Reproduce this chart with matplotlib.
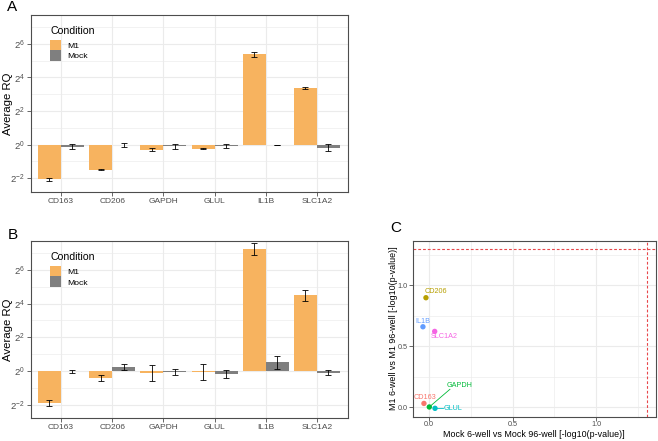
import numpy as np
import matplotlib
matplotlib.use("Agg")
import matplotlib.pyplot as plt
from matplotlib.patches import Patch
from matplotlib.ticker import FixedLocator, NullFormatter, FuncFormatter, NullLocator

plt.rcParams["font.family"] = ["Liberation Sans", "DejaVu Sans"]
plt.rcParams["mathtext.fontset"] = "custom"
plt.rcParams["mathtext.rm"] = "Liberation Sans"
plt.rcParams["mathtext.it"] = "Liberation Sans:italic"
plt.rcParams["mathtext.default"] = "regular"

# ---------------- data ----------------
genes = ["CD163", "CD206", "GAPDH", "GLUL", "IL1B", "SLC1A2"]
conditions = ["M1", "Mock"]

# Panel A: log2(Average RQ) and error (log2 units)
a_m1_log2 = [-2.06, -1.50, -0.30, -0.24, 5.37, 3.36]
a_m1_err = [0.10, 0.03, 0.09, 0.04, 0.13, 0.06]
a_mock_log2 = [-0.12, -0.02, -0.10, -0.08, -0.02, -0.18]
a_mock_err = [0.16, 0.10, 0.14, 0.10, 0.02, 0.21]

# Panel B
b_m1_log2 = [-1.90, -0.40, -0.15, -0.06, 7.26, 4.50]
b_m1_err = [0.18, 0.18, 0.47, 0.46, 0.35, 0.32]
b_mock_log2 = [-0.02, 0.24, -0.06, -0.18, 0.52, -0.10]
b_mock_err = [0.08, 0.18, 0.16, 0.26, 0.39, 0.16]

# Panel C: -log10(p-values)
c_x = [-0.028, -0.016, 0.004, 0.038, -0.034, 0.036]
c_y = [0.032, 0.898, 0.003, -0.008, 0.660, 0.622]
sig_threshold = -np.log10(0.05)

# ---------------- styles ----------------
col_m1 = "#F7B35F"
col_mock = "#7F7F7F"
gene_colors = ["#F8766D", "#B79F00", "#00BA38", "#00BFC4", "#619CFF", "#F564E3"]
grid_col = "#EBEBEB"
border_col = "#4D4D4D"
tick_col = "#4D4D4D"

W, H = 658, 441
fig = plt.figure(figsize=(W / 100, H / 100), dpi=100)


def px_axes(l, t, r, b):
    return fig.add_axes([l / W, 1 - b / H, (r - l) / W, (b - t) / H])


def style_axes(ax, lsize, pad=1.5):
    for s in ax.spines.values():
        s.set_color(border_col)
        s.set_linewidth(0.8)
    ax.tick_params(which="major", length=2.6, width=0.6, color=border_col,
                   labelsize=lsize, labelcolor=tick_col, pad=pad)
    ax.tick_params(which="minor", length=0)
    ax.grid(True, which="major", color=grid_col, lw=0.8)
    ax.grid(True, which="minor", color=grid_col, lw=0.45)
    ax.set_axisbelow(True)


def bar_panel(ax, m1_log2, m1_err, mock_log2, mock_err, show_legend):
    x = np.arange(len(genes))
    w = 0.45
    for vals, errs, off, col in [(m1_log2, m1_err, -w / 2, col_m1),
                                 (mock_log2, mock_err, w / 2, col_mock)]:
        v = np.array(vals)
        e = np.array(errs)
        rq = 2.0 ** v
        ax.bar(x + off, rq - 1, bottom=1, width=w, color=col, linewidth=0, zorder=2)
        lo = 2.0 ** (v - e)
        hi = 2.0 ** (v + e)
        ax.errorbar(x + off, rq, yerr=[rq - lo, hi - rq], fmt="none", ecolor="black",
                    elinewidth=0.6, capsize=2.2, capthick=0.6, zorder=3)
    ax.set_yscale("log", base=2)
    ax.set_ylim(2 ** -2.82, 2 ** 7.72)
    ax.set_xlim(-0.59, 5.6)
    ax.yaxis.set_major_locator(FixedLocator([2.0 ** k for k in (-2, 0, 2, 4, 6)]))
    ax.yaxis.set_major_formatter(FuncFormatter(lambda v, p: "$2^{%d}$" % int(round(np.log2(v)))))
    ax.yaxis.set_minor_locator(FixedLocator([2.0 ** k for k in (-1, 1, 3, 5, 7)]))
    ax.yaxis.set_minor_formatter(NullFormatter())
    ax.set_xticks(x)
    ax.set_xticklabels(genes)
    ax.xaxis.set_minor_locator(NullLocator())
    style_axes(ax, 6.0)
    ax.tick_params(axis="y", labelsize=6.8)
    ax.set_ylabel("Average RQ", fontsize=8.2)
    ax.yaxis.set_label_coords(-0.073, 0.5)
    ax.yaxis.label.set_va("center")
    if show_legend:
        handles = [Patch(facecolor=col_m1, edgecolor="none"),
                   Patch(facecolor=col_mock, edgecolor="none")]
        leg = ax.legend(handles, conditions, title="Condition", loc="upper left",
                        bbox_to_anchor=(0.062, 0.937), frameon=False, fontsize=6.1,
                        title_fontsize=7.6, handlelength=1.3, handleheight=1.55,
                        labelspacing=0.02, handletextpad=0.65, borderpad=0,
                        borderaxespad=0)
        leg._legend_box.align = "left"
        leg._legend_box.sep = 2.5


axA = px_axes(30.7, 15, 347.7, 192)
bar_panel(axA, a_m1_log2, a_m1_err, a_mock_log2, a_mock_err, True)
axB = px_axes(30.7, 241, 347.7, 418.3)
bar_panel(axB, b_m1_log2, b_m1_err, b_mock_log2, b_mock_err, True)

# Panel C
axC = px_axes(412.7, 240.7, 656, 416.5)
axC.scatter(c_x, c_y, s=15, c=gene_colors, zorder=3, linewidths=0)
axC.axhline(sig_threshold, color="#E8474A", lw=0.8, ls=(0, (2.5, 1.8)), zorder=2)
axC.axvline(sig_threshold, color="#E8474A", lw=0.8, ls=(0, (2.5, 1.8)), zorder=2)
axC.set_xlim(-0.095, 1.355)
axC.set_ylim(-0.075, 1.365)
axC.set_xticks([0.0, 0.5, 1.0])
axC.set_yticks([0.0, 0.5, 1.0])
axC.set_xticklabels(["0.0", "0.5", "1.0"])
axC.set_yticklabels(["0.0", "0.5", "1.0"])
axC.xaxis.set_minor_locator(FixedLocator([0.25, 0.75, 1.25]))
axC.yaxis.set_minor_locator(FixedLocator([0.25, 0.75, 1.25]))
style_axes(axC, 5.2, pad=1.0)
axC.set_xlabel("Mock 6-well vs Mock 96-well [-log10(p-value)]", fontsize=6.4, labelpad=1)
axC.set_ylabel("M1 6-well vs M1 96-well [-log10(p-value)]", fontsize=6.4)
axC.yaxis.set_label_coords(-0.08, 0.5)
axC.yaxis.label.set_va("center")

# label placement (layout only)
label_pos = {
    "CD163": (-0.024, 0.079),
    "CD206": (0.041, 0.949),
    "GAPDH": (0.184, 0.176),
    "GLUL": (0.147, -0.008),
    "IL1B": (-0.034, 0.703),
    "SLC1A2": (0.095, 0.578),
}
connectors = {"GAPDH": (0.127, 0.148), "GLUL": (0.087, -0.008)}
for g, xx, yy, col in zip(genes, c_x, c_y, gene_colors):
    lx, ly = label_pos[g]
    axC.text(lx, ly, g, color=col, fontsize=5.2, ha="center", va="center", zorder=4)
    if g in connectors:
        ex, ey = connectors[g]
        axC.plot([xx, ex], [yy, ey], color=col, lw=0.6, zorder=2)

# panel letters
fig.text(12 / W, 1 - 7 / H, "A", fontsize=11, ha="center", va="center")
fig.text(13 / W, 1 - 235 / H, "B", fontsize=11, ha="center", va="center")
fig.text(396 / W, 1 - 228 / H, "C", fontsize=11, ha="center", va="center")

fig.savefig("out.png", dpi=100)
